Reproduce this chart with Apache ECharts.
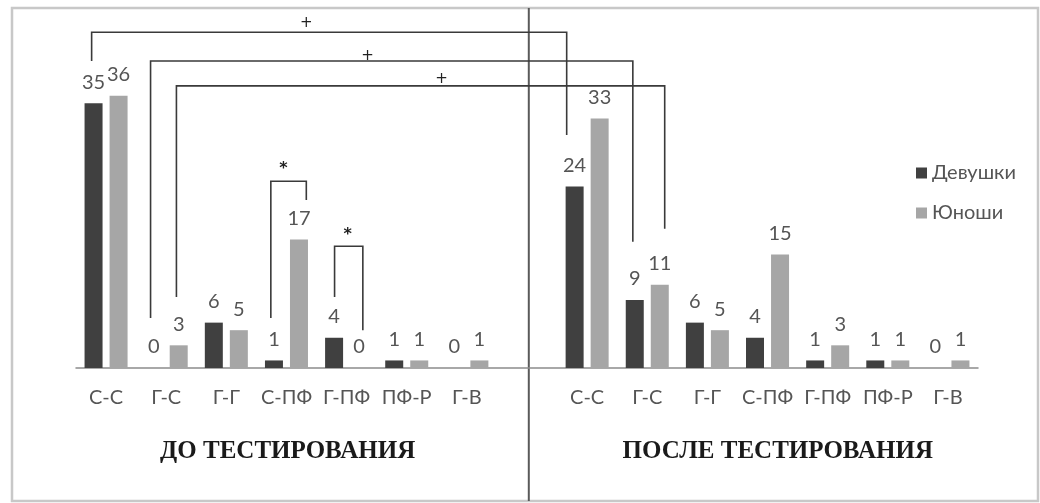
<!DOCTYPE html>
<html>
<head>
<meta charset="utf-8">
<script src="https://cdn.jsdelivr.net/npm/echarts@6/dist/echarts.min.js"></script>
<style>
    html, body { margin: 0; padding: 0; background: #fff; }
    #chart { width: 1040px; height: 503px; }
</style>
</head>
<body>
<div id="chart"></div>
<script>
// 7 pair types before testing, an empty slot, 7 after testing
const categories = ['С-С', 'Г-С', 'Г-Г', 'С-ПФ', 'Г-ПФ', 'ПФ-Р', 'Г-В', '',
                    'С-С', 'Г-С', 'Г-Г', 'С-ПФ', 'Г-ПФ', 'ПФ-Р', 'Г-В'];
const girls = [35, 0, 6, 1, 4, 1, 0, null, 24, 9, 6, 4, 1, 1, 0];
const boys = [36, 3, 5, 17, 0, 1, 1, null, 33, 11, 5, 15, 3, 1, 1];
const seriesNames = ['Девушки', 'Юноши'];
const panelTitles = ['ДО ТЕСТИРОВАНИЯ', 'ПОСЛЕ ТЕСТИРОВАНИЯ'];

// significance brackets, in axis units (category index, value)
const brackets = [
    { from: -0.24, to: 7.66, top: 44.4, fromEnd: 40.6, toEnd: 30.8, mark: '+', markAt: [3.33, 45.6] },
    { from: 0.74, to: 8.76, top: 40.6, fromEnd: 6.6, toEnd: 16.7, mark: '+', markAt: [4.35, 41.3] },
    { from: 1.17, to: 9.29, top: 37.3, fromEnd: 9.4, toEnd: 18.4, mark: '+', markAt: [5.58, 38.2] },
    { from: 2.74, to: 3.33, top: 24.7, fromEnd: 6.6, toEnd: 22.2, mark: '*', markAt: [2.95, 26.4] },
    { from: 3.80, to: 4.27, top: 16.1, fromEnd: 9.4, toEnd: 5.0, mark: '*', markAt: [4.02, 17.6] }
];

const labelFont = 'Lato, "Open Sans", sans-serif';

function barSeries(name, data, color) {
    return {
        name: name,
        type: 'bar',
        data: data,
        barWidth: 18,
        barGap: '39%',
        itemStyle: { color: color },
        label: {
            show: true,
            position: 'top',
            distance: 11,
            color: '#555',
            fontSize: 20,
            fontFamily: labelFont
        }
    };
}

let chart = echarts.init(document.getElementById('chart'), null, { renderer: 'canvas' });

let option = {
    animation: false,
    backgroundColor: '#fff',
    grid: { left: 76, right: 62, top: 65.5, bottom: 135 },
    legend: {
        orient: 'vertical',
        left: 911,
        top: 158,
        itemWidth: 11,
        itemHeight: 11,
        itemGap: 20,
        icon: 'rect',
        textStyle: { color: '#555', fontSize: 20, fontFamily: labelFont },
        data: seriesNames
    },
    xAxis: {
        type: 'category',
        data: categories,
        axisLine: { lineStyle: { color: '#8c8c8c', width: 1.5 } },
        axisTick: { show: false },
        axisLabel: { color: '#555', fontSize: 20, fontFamily: labelFont, margin: 20, interval: 0 }
    },
    yAxis: {
        type: 'value',
        min: 0,
        max: 40,
        show: false,
        splitLine: { show: false }
    },
    series: [
        barSeries(seriesNames[0], girls, '#404040'),
        barSeries(seriesNames[1], boys, '#a6a6a6')
    ]
};
chart.setOption(option);

// overlay: frame, panel divider, panel titles, brackets
function drawOverlay() {
    let x0 = chart.convertToPixel({ xAxisIndex: 0 }, 0);
    let x14 = chart.convertToPixel({ xAxisIndex: 0 }, 14);
    let step = (x14 - x0) / 14;
    let px = v => x0 + step * v;
    let py = v => chart.convertToPixel({ yAxisIndex: 0 }, v);

    let graphics = [
        { type: 'rect', shape: { x: 12, y: 8, width: 1026, height: 493 },
          style: { fill: 'none', stroke: '#c8c8c8', lineWidth: 2.5 } },
        { type: 'line', shape: { x1: px(7.03), y1: 8, x2: px(7.03), y2: 501 },
          style: { stroke: '#5a5a5a', lineWidth: 2 } },
        { type: 'text', x: px(3.02), y: 452,
          style: { text: panelTitles[0], fill: '#1a1a1a', font: 'bold 25px "Liberation Serif", serif',
                   align: 'center', verticalAlign: 'middle' } },
        { type: 'text', x: px(11.17), y: 452,
          style: { text: panelTitles[1], fill: '#1a1a1a', font: 'bold 25px "Liberation Serif", serif',
                   align: 'center', verticalAlign: 'middle' } }
    ];

    brackets.forEach(function (b) {
        graphics.push({
            type: 'polyline',
            shape: { points: [[px(b.from), py(b.fromEnd)], [px(b.from), py(b.top)],
                              [px(b.to), py(b.top)], [px(b.to), py(b.toEnd)]] },
            style: { stroke: '#3a3a3a', lineWidth: 1.6, fill: 'none' }
        });
        graphics.push({
            type: 'text',
            x: px(b.markAt[0]),
            y: py(b.markAt[1]),
            style: { text: b.mark, fill: '#222', font: (b.mark === '+' ? '15px' : 'bold 16px') + ' "DejaVu Sans", sans-serif',
                     align: 'center', verticalAlign: 'middle' }
        });
    });

    chart.setOption({ graphic: graphics });
}
drawOverlay();
</script>
</body>
</html>
